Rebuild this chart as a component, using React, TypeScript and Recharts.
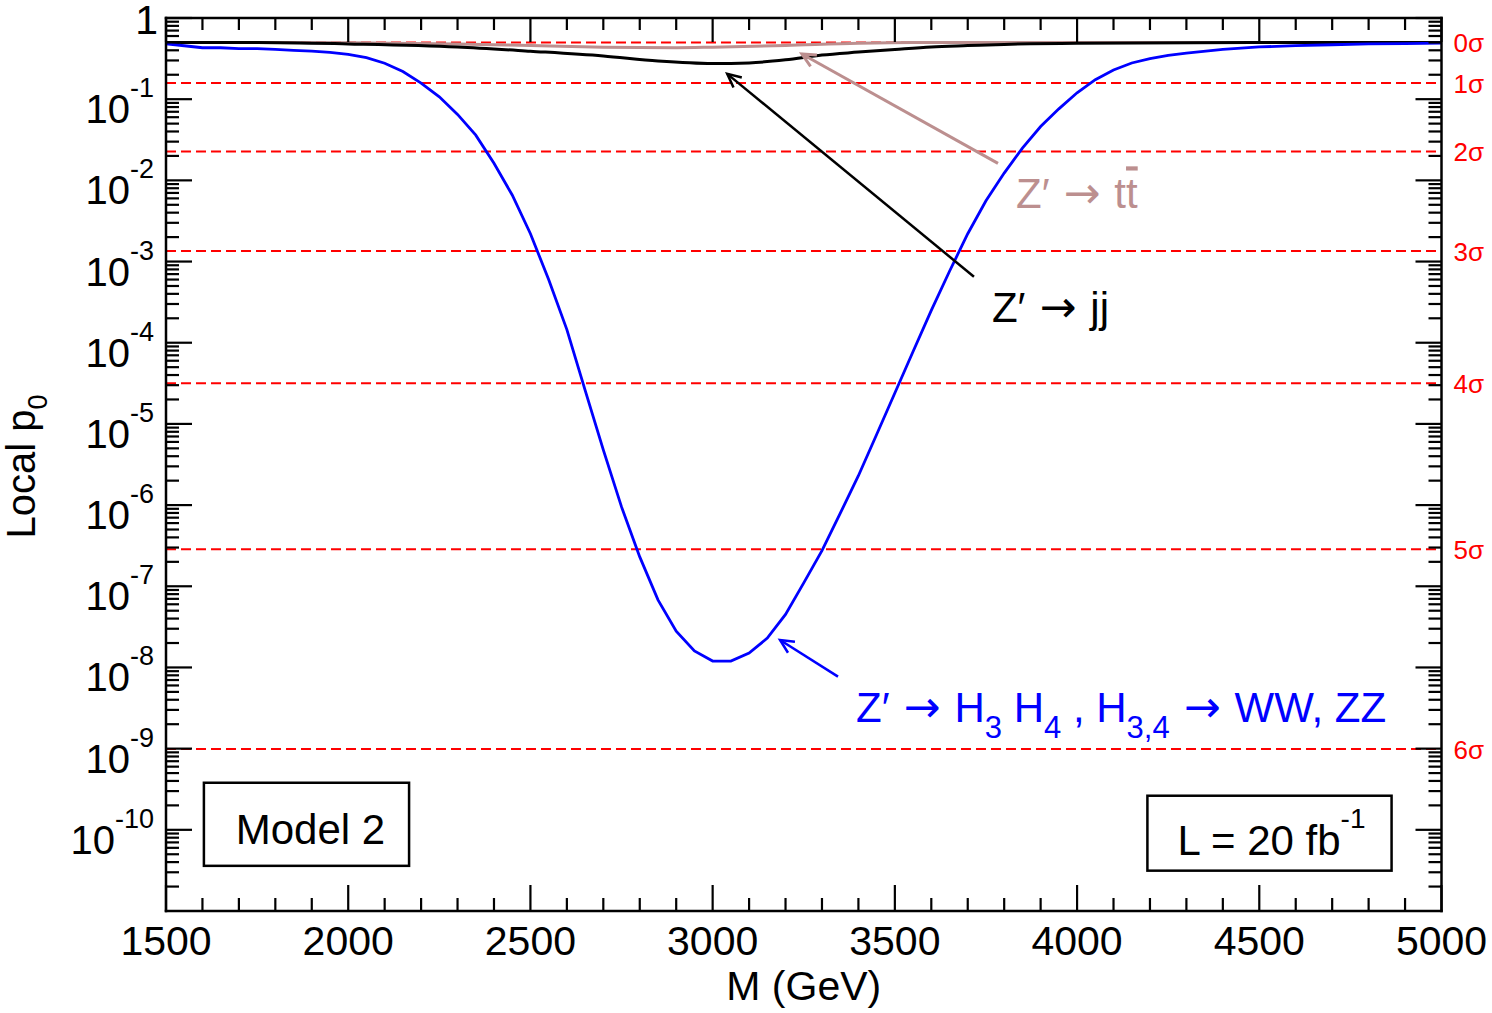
import React from "react";
import {
  LineChart,
  Line,
  XAxis,
  YAxis,
  ReferenceLine,
  ReferenceArea,
} from "recharts";

const FONT = '"Liberation Sans", Arial, Helvetica, sans-serif';
const ARROW_FONT = '"DejaVu Sans", sans-serif';

// Z' -> H3 H4, H3,4 -> WW, ZZ : local p0 versus mass
const massHH = [
  1500, 1550, 1600, 1650, 1700, 1750, 1800, 1850, 1900, 1950, 2000, 2050, 2100,
  2150, 2200, 2250, 2300, 2350, 2400, 2450, 2500, 2550, 2600, 2650, 2700, 2750,
  2800, 2850, 2900, 2950, 3000, 3050, 3100, 3150, 3200, 3250, 3300, 3350, 3400,
  3450, 3500, 3550, 3600, 3650, 3700, 3750, 3800, 3850, 3900, 3950, 4000, 4050,
  4100, 4150, 4200, 4250, 4300, 4400, 4500, 4600, 4700, 4800, 4900, 5000,
];
const pHH = [
  0.48, 0.455, 0.43, 0.43, 0.42, 0.42, 0.41, 0.4, 0.39, 0.378, 0.357, 0.324,
  0.277, 0.219, 0.158, 0.107, 0.065, 0.036, 0.0162, 0.0066, 2.2e-3, 6.0e-4,
  1.45e-4, 2.6e-5, 4.8e-6, 9.5e-7, 2.3e-7, 6.8e-8, 2.8e-8, 1.6e-8, 1.2e-8,
  1.2e-8, 1.5e-8, 2.3e-8, 4.5e-8, 1.1e-7, 2.75e-7, 7.9e-7, 2.3e-6, 7.4e-6,
  2.4e-5, 7.8e-5, 2.5e-4, 7.6e-4, 2.2e-3, 5.6e-3, 0.0123, 0.025, 0.046, 0.076,
  0.12, 0.174, 0.229, 0.279, 0.316, 0.347, 0.37, 0.41, 0.44, 0.457, 0.468, 0.48,
  0.484, 0.49,
];

// Z' -> jj
const massJJ = [
  1500, 1750, 2000, 2300, 2500, 2700, 2850, 3000, 3100, 3200, 3300, 3400, 3500,
  3600, 3700, 3800, 4000, 4500, 5000,
];
const pJJ = [
  0.5, 0.5, 0.48, 0.44, 0.39, 0.34, 0.295, 0.275, 0.28, 0.305, 0.35, 0.38,
  0.41, 0.44, 0.457, 0.473, 0.49, 0.5, 0.5,
];

// Z' -> t tbar
const massTT = [1500, 2000, 2300, 2500, 2700, 2900, 3000, 3200, 3400, 3550, 5000];
const pTT = [0.5, 0.495, 0.48, 0.457, 0.437, 0.43, 0.437, 0.46, 0.49, 0.5, 0.5];

// one-sided Gaussian significance levels
const sigmaLabels = ["0σ", "1σ", "2σ", "3σ", "4σ", "5σ", "6σ"];
const sigmaP = [0.5, 0.1587, 0.02275, 0.00135, 3.167e-5, 2.867e-7, 9.866e-10];

const xMajorTicks = [1500, 2000, 2500, 3000, 3500, 4000, 4500, 5000];
const yDecadeExponents = [-11, -10, -9, -8, -7, -6, -5, -4, -3, -2, -1, 0];

const hhData = massHH.map((m, i) => ({ m, p: pHH[i] }));
const jjData = massJJ.map((m, i) => ({ m, p: pJJ[i] }));
const ttData = massTT.map((m, i) => ({ m, p: pTT[i] }));

// minor ticks every 100 GeV, majors every 500 GeV
const xTicks: number[] = [];
for (let i = 0; i < xMajorTicks.length - 1; i++) {
  for (let k = 0; k < 5; k++) xTicks.push(xMajorTicks[i] + k * 100);
}
xTicks.push(xMajorTicks[xMajorTicks.length - 1]);

// decade ticks plus 2..9 minor ticks
const yTicks: number[] = [];
yDecadeExponents.forEach((n) => {
  if (n === 0) {
    yTicks.push(1);
    return;
  }
  for (let k = 1; k <= 9; k++) {
    if (n === -11 && k === 1) continue;
    yTicks.push(k * Math.pow(10, n));
  }
});

const isDecade = (v: number) => {
  const lg = Math.log10(v);
  return Math.abs(lg - Math.round(lg)) < 1e-6;
};

const AX = 2.2;

const XTickBottom = (props: any) => {
  const { x, y, payload } = props;
  const v = payload.value;
  const major = v % 500 === 0;
  return (
    <g>
      <line x1={x} y1={y} x2={x} y2={y - (major ? 26 : 13)} stroke="#000" strokeWidth={AX} />
      {major && (
        <text x={x} y={y + 44} textAnchor="middle" fontSize={41} fill="#000" fontFamily={FONT}>
          {v}
        </text>
      )}
    </g>
  );
};

const XTickTop = (props: any) => {
  const { x, y, payload } = props;
  const major = payload.value % 500 === 0;
  return <line x1={x} y1={y} x2={x} y2={y + (major ? 24 : 12)} stroke="#000" strokeWidth={AX} />;
};

const YTickLeft = (props: any) => {
  const { x, y, payload } = props;
  const v = payload.value;
  const major = isDecade(v);
  const n = Math.round(Math.log10(v));
  return (
    <g>
      <line x1={x} y1={y} x2={x + (major ? 26 : 13)} y2={y} stroke="#000" strokeWidth={AX} />
      {major && n === 0 && (
        <text x={x - 8} y={y + 16} textAnchor="end" fontSize={41} fill="#000" fontFamily={FONT}>
          1
        </text>
      )}
      {major && n < 0 && n > -11 && (
        <text x={x - 12} y={y + 24} textAnchor="end" fontSize={40} fill="#000" fontFamily={FONT}>
          10
          <tspan dy={-26} fontSize={27}>
            {String(n)}
          </tspan>
        </text>
      )}
    </g>
  );
};

const YTickRight = (props: any) => {
  const { x, y, payload } = props;
  const major = isDecade(payload.value);
  return <line x1={x} y1={y} x2={x - (major ? 26 : 13)} y2={y} stroke="#000" strokeWidth={AX} />;
};

const YTitle = (props: any) => {
  const vb = props.viewBox || {};
  const cx = (vb.x ?? 0) + 35;
  const cy = (vb.y ?? 18) + (vb.height ?? 893) / 2 + 2;
  return (
    <text
      transform={`translate(${cx}, ${cy}) rotate(-90)`}
      textAnchor="middle"
      fontSize={40}
      fill="#000"
      fontFamily={FONT}
    >
      Local p
      <tspan dy={12} fontSize={27}>
        0
      </tspan>
    </text>
  );
};

const XTitle = (props: any) => {
  const vb = props.viewBox || {};
  const cx = (vb.x ?? 166) + (vb.width ?? 1275) / 2;
  const cy = (vb.y ?? 911) + 89;
  return (
    <text x={cx} y={cy} textAnchor="middle" fontSize={41} fill="#000" fontFamily={FONT}>
      M (GeV)
    </text>
  );
};

// dashed significance line with its label past the right frame
const sigmaShape = (label: string) => (props: any) => {
  const { x1, y1, x2, y2 } = props;
  const right = Math.max(x1, x2);
  return (
    <g>
      <line x1={x1} y1={y1} x2={x2} y2={y2} stroke="#ff0000" strokeWidth={2} strokeDasharray="10 5" />
      <text x={right + 12} y={y1 + 10} fontSize={26} fill="#ff0000" fontFamily={FONT}>
        {label}
      </text>
    </g>
  );
};

// arrow from the label (start) to the curve (end), label drawn below the tail
const arrowShape = (color: string, width: number, text: React.ReactNode) => (props: any) => {
  const { x1, y1, x2, y2 } = props;
  const ang = Math.atan2(y2 - y1, x2 - x1);
  const hl = 15;
  const spread = 0.45;
  const ax = x2 - hl * Math.cos(ang - spread);
  const ay = y2 - hl * Math.sin(ang - spread);
  const bx = x2 - hl * Math.cos(ang + spread);
  const by = y2 - hl * Math.sin(ang + spread);
  return (
    <g>
      <line x1={x1} y1={y1} x2={x2} y2={y2} stroke={color} strokeWidth={width} />
      <polyline
        points={`${ax},${ay} ${x2},${y2} ${bx},${by}`}
        fill="none"
        stroke={color}
        strokeWidth={width}
      />
      <text x={x1 + 18} y={y1 + 45} fontSize={42} fill={color} fontFamily={FONT}>
        {text}
      </text>
    </g>
  );
};

const ModelBox = (props: any) => {
  const { x, y, width, height } = props;
  return (
    <g>
      <rect x={x} y={y} width={width} height={height} fill="#fff" stroke="#000" strokeWidth={2.5} />
      <text x={x + width / 2 + 4} y={y + 61} textAnchor="middle" fontSize={42} fill="#000" fontFamily={FONT}>
        Model 2
      </text>
    </g>
  );
};

const LumiBox = (props: any) => {
  const { x, y, width, height } = props;
  return (
    <g>
      <rect x={x} y={y} width={width} height={height} fill="#fff" stroke="#000" strokeWidth={2.5} />
      <text x={x + width / 2 + 2} y={y + 59} textAnchor="middle" fontSize={42} fill="#000" fontFamily={FONT}>
        L = 20 fb
        <tspan dy={-27} fontSize={28}>
          -1
        </tspan>
      </text>
    </g>
  );
};

const Arrow = () => (
  <tspan fontFamily={ARROW_FONT} fontSize={44}>
    {" → "}
  </tspan>
);

const jjText = (
  <>
    Z′
    <Arrow />
    <tspan>jj</tspan>
  </>
);
const ttText = (
  <>
    Z′
    <Arrow />
    <tspan>t</tspan>
    <tspan style={{ textDecoration: "overline" }}>t</tspan>
  </>
);
const hhText = (
  <>
    Z′
    <Arrow />
    <tspan>H</tspan>
    <tspan dy={16} fontSize={31}>3</tspan>
    <tspan dy={-16}>{" H"}</tspan>
    <tspan dy={16} fontSize={31}>4</tspan>
    <tspan dy={-16}>{" , H"}</tspan>
    <tspan dy={16} fontSize={31}>3,4</tspan>
    <tspan dy={-16} fontFamily={ARROW_FONT} fontSize={44}>{" → "}</tspan>
    <tspan>WW, ZZ</tspan>
  </>
);

export default function App() {
  return (
    <div style={{ position: "absolute", left: 0, top: 0, fontFamily: FONT, background: "#fff" }}>
      <LineChart width={1492} height={1013} margin={{ top: 0, right: 0, bottom: 0, left: 0 }}>
        <XAxis
          xAxisId="b"
          dataKey="m"
          type="number"
          domain={[1500, 5000]}
          allowDataOverflow
          ticks={xTicks}
          interval={0}
          tickSize={0}
          tickMargin={0}
          tickLine={false}
          tick={<XTickBottom />}
          height={102}
          axisLine={{ stroke: "#000", strokeWidth: 2.5, strokeLinecap: "square" }}
          label={<XTitle />}
        />
        <XAxis
          xAxisId="t"
          orientation="top"
          dataKey="m"
          type="number"
          domain={[1500, 5000]}
          allowDataOverflow
          ticks={xTicks}
          interval={0}
          tickSize={0}
          tickMargin={0}
          tickLine={false}
          tick={<XTickTop />}
          height={18}
          axisLine={{ stroke: "#000", strokeWidth: 2.5, strokeLinecap: "square" }}
        />
        <YAxis
          yAxisId="l"
          type="number"
          scale="log"
          domain={[1e-11, 1]}
          allowDataOverflow
          ticks={yTicks}
          interval={0}
          tickSize={0}
          tickMargin={0}
          tickLine={false}
          tick={<YTickLeft />}
          width={166}
          axisLine={{ stroke: "#000", strokeWidth: 2.5, strokeLinecap: "square" }}
          label={<YTitle />}
        />
        <YAxis
          yAxisId="r"
          orientation="right"
          type="number"
          scale="log"
          domain={[1e-11, 1]}
          allowDataOverflow
          ticks={yTicks}
          interval={0}
          tickSize={0}
          tickMargin={0}
          tickLine={false}
          tick={<YTickRight />}
          width={50.5}
          axisLine={{ stroke: "#000", strokeWidth: 2.5, strokeLinecap: "square" }}
        />

        {sigmaP.map((p, i) => (
          <ReferenceLine
            key={sigmaLabels[i]}
            xAxisId="b"
            yAxisId="l"
            y={p}
            shape={sigmaShape(sigmaLabels[i])}
          />
        ))}

        <ReferenceArea
          xAxisId="b"
          yAxisId="l"
          x1={1604}
          x2={2167}
          y1={3.6e-11}
          y2={3.8e-10}
          shape={ModelBox}
        />
        <ReferenceArea
          xAxisId="b"
          yAxisId="l"
          x1={4193}
          x2={4863}
          y1={3.14e-11}
          y2={2.63e-10}
          shape={LumiBox}
        />

        <Line
          xAxisId="b"
          yAxisId="l"
          data={ttData}
          dataKey="p"
          type="monotone"
          stroke="#bc8f8f"
          strokeWidth={3}
          dot={false}
          activeDot={false}
          isAnimationActive={false}
        />
        <Line
          xAxisId="b"
          yAxisId="l"
          data={jjData}
          dataKey="p"
          type="monotone"
          stroke="#000"
          strokeWidth={3}
          dot={false}
          activeDot={false}
          isAnimationActive={false}
        />
        <Line
          xAxisId="b"
          yAxisId="l"
          data={hhData}
          dataKey="p"
          type="linear"
          stroke="#0000ff"
          strokeWidth={2.8}
          dot={false}
          activeDot={false}
          isAnimationActive={false}
        />

        <ReferenceLine
          xAxisId="b"
          yAxisId="l"
          segment={[
            { x: 3783, y: 0.0162 },
            { x: 3245, y: 0.36 },
          ]}
          shape={arrowShape("#bc8f8f", 3, ttText)}
        />
        <ReferenceLine
          xAxisId="b"
          yAxisId="l"
          segment={[
            { x: 3717, y: 6.5e-4 },
            { x: 3040, y: 0.205 },
          ]}
          shape={arrowShape("#000", 2.5, jjText)}
        />
        <ReferenceLine
          xAxisId="b"
          yAxisId="l"
          segment={[
            { x: 3344, y: 7.7e-9 },
            { x: 3185, y: 2.18e-8 },
          ]}
          shape={arrowShape("#0000ff", 2.5, hhText)}
        />
      </LineChart>
    </div>
  );
}
